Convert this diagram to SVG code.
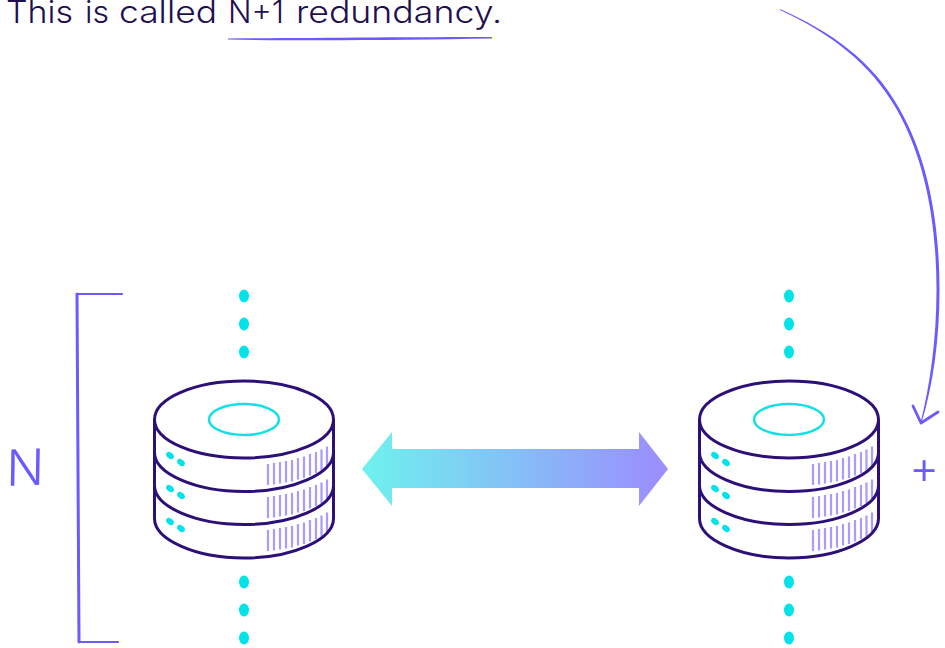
<svg xmlns="http://www.w3.org/2000/svg" xmlns:xlink="http://www.w3.org/1999/xlink" width="945" height="648" viewBox="0 0 945 648">
<style>
.sk{fill:none;stroke:#2d0f78;stroke-width:3}
.vent{fill:none;stroke:#a99bff;stroke-width:2.200}
.sketch{fill:none;stroke:#6a5aff;stroke-linecap:round;stroke-linejoin:round}
.brush{fill:#6a5aff;stroke:none}
.dot{fill:#00e3e8}
.title{font-family:"Inter","Liberation Sans",sans-serif;font-weight:300;font-size:31px;fill:#1e0f50}
.hand{font-family:"Inter","Liberation Sans",sans-serif;font-weight:300;fill:#6a5aff}
</style>
<defs>
<linearGradient id="g" x1="0" x2="1" y1="0" y2="0"><stop offset="0" stop-color="#6ef2ee"/><stop offset="1" stop-color="#9c8cff"/></linearGradient>
<g id="server">
<path class="vent" d="M24 44.500V65.500M30 43.500V65M36 42.500V64M42 41.500V63M48 40.500V62M54 38.500V60M60 37V58.500M66 34.500V56M72 32.500V53.500M77.500 30V51M83 27V48"/>
<path class="vent" d="M24 77.500V98.500M30 76.500V98M36 75.500V97M42 74.500V96M48 73.500V95M54 71.500V93M60 70V91.500M66 67.500V89M72 65.500V86.500M77.500 63V84M83 60V81"/>
<path class="vent" d="M24 110.500V131.500M30 109.500V131M36 108.500V130M42 107.500V129M48 106.500V128M54 104.500V126M60 103V124.500M66 100.500V122M72 98.500V119.500M77.500 96V117M83 93V114"/>
<path class="sk" d="M-89.500 0V99C-89.500 120 -49 138.500 0 138.500S89.500 120 89.500 99V0"/>
<ellipse class="sk" cx="0" cy="0" rx="89.500" ry="38.500"/>
<path class="sk" d="M-89.500 33C-89.500 54 -49 72 0 72S89.500 54 89.500 33"/>
<path class="sk" d="M-89.500 66C-89.500 87 -49 105 0 105S89.500 87 89.500 66"/>
<ellipse cx="0" cy="0" rx="35" ry="15.500" fill="none" stroke="#12e0e6" stroke-width="2.500"/>
<g class="dot">
<ellipse cx="-74" cy="36" rx="4.300" ry="3" transform="rotate(40 -74 36)"/>
<ellipse cx="-63" cy="43" rx="4.300" ry="3" transform="rotate(40 -63 43)"/>
<ellipse cx="-74" cy="69" rx="4.300" ry="3" transform="rotate(40 -74 69)"/>
<ellipse cx="-63" cy="76" rx="4.300" ry="3" transform="rotate(40 -63 76)"/>
<ellipse cx="-74" cy="102" rx="4.300" ry="3" transform="rotate(40 -74 102)"/>
<ellipse cx="-63" cy="109" rx="4.300" ry="3" transform="rotate(40 -63 109)"/>
</g>
</g>
<g id="dots" class="dot">
<ellipse cx="0" cy="0" rx="5" ry="6.500"/><ellipse cx="0" cy="28" rx="5" ry="6.500"/><ellipse cx="0" cy="56" rx="5" ry="6.500"/>
</g>
</defs>
<g id="title"><text class="title" y="23"><tspan x="6" textLength="67" lengthAdjust="spacingAndGlyphs">This</tspan> <tspan x="85" textLength="24" lengthAdjust="spacingAndGlyphs">is</tspan> <tspan x="119" textLength="98" lengthAdjust="spacingAndGlyphs">called</tspan> <tspan x="228" textLength="56" lengthAdjust="spacingAndGlyphs">N+1</tspan> <tspan x="296" textLength="206" lengthAdjust="spacingAndGlyphs">redundancy.</tspan></text></g>
<g id="server-left">
<use xlink:href="#dots" href="#dots" transform="translate(244 296)"/>
<use xlink:href="#server" href="#server" transform="translate(244 419.500)"/>
<use xlink:href="#dots" href="#dots" transform="translate(244 582)"/>
</g>
<g id="server-right">
<use xlink:href="#dots" href="#dots" transform="translate(789 296)"/>
<use xlink:href="#server" href="#server" transform="translate(789 419.500)"/>
<use xlink:href="#dots" href="#dots" transform="translate(789 582)"/>
</g>
<g id="label-n"><text class="hand" x="0" y="0" font-size="50" transform="translate(6 486) rotate(-2) skewX(-3)">N</text></g>
<g id="label-plus"><text class="hand" x="924" y="484" font-size="46" text-anchor="middle">+</text></g>
<g id="connectors">
<polygon points="362,469 392,432 392,449 639,449 639,432 668,469 639,506 639,488 392,488 392,506" fill="url(#g)"/>
<path class="brush" d="M780 9C830 31 873 61 899 108C929 160 939.500 225 939.500 290C939.500 340 933 385 921.500 423L920.500 423C930 385 936.500 340 936.500 290C936.500 225 926 161 896.500 109C870 63 830 33 780 10Z"/>
<path class="sketch" stroke-width="2.800" d="M913 406L921 423L938 412"/>
<path class="sketch" stroke-width="2.200" d="M122 294L77 294"/>
<path class="sketch" stroke-width="3" d="M77 294L79 642"/>
<path class="sketch" stroke-width="2.200" d="M79 642L118 642"/>
<path class="brush" d="M228 38.500C310 38 410 37 492 37L492 38.500C410 40 310 41 228 39.500Z"/>
</g>
</svg>
